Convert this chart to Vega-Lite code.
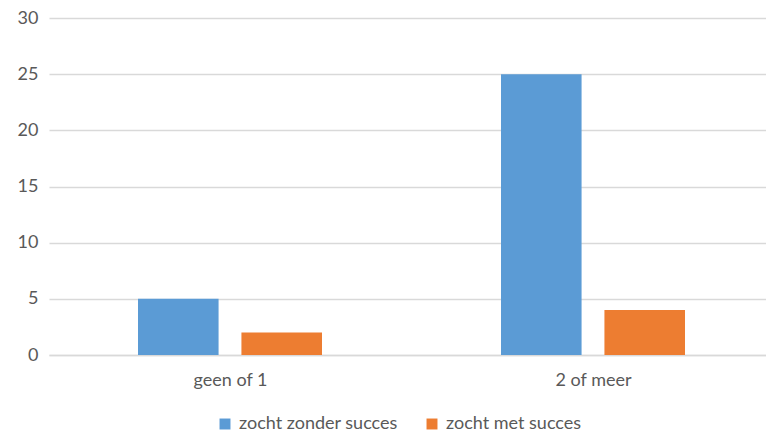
{
  "$schema": "https://vega.github.io/schema/vega-lite/v6.json",
  "width": 716,
  "height": 337,
  "autosize": "none",
  "padding": {"left": 49, "top": 18, "right": 1, "bottom": 79},
  "background": "white",
  "config": {
    "font": "Lato",
    "view": {"stroke": null}
  },
  "data": {
    "values": [
      {"groep": "geen of 1", "reeks": "zocht zonder succes", "aantal": 5},
      {"groep": "geen of 1", "reeks": "zocht met succes", "aantal": 2},
      {"groep": "2 of meer", "reeks": "zocht zonder succes", "aantal": 25},
      {"groep": "2 of meer", "reeks": "zocht met succes", "aantal": 4}
    ]
  },
  "mark": {"type": "bar", "clip": true},
  "encoding": {
    "x": {
      "field": "groep",
      "type": "nominal",
      "sort": ["geen of 1", "2 of meer"],
      "scale": {"paddingInner": 0, "paddingOuter": 0, "range": [0, 726]},
      "axis": {
        "title": null,
        "labelAngle": 0,
        "labelFontSize": 18,
        "labelColor": "#595959",
        "labelPadding": 16,
        "ticks": false,
        "domainColor": "#D9D9D9",
        "domainWidth": 1.5,
        "grid": false
      }
    },
    "xOffset": {
      "field": "reeks",
      "type": "nominal",
      "sort": ["zocht zonder succes", "zocht met succes"],
      "scale": {"paddingInner": 0.221, "paddingOuter": 0, "range": [89, 273]}
    },
    "y": {
      "field": "aantal",
      "type": "quantitative",
      "scale": {"domain": [0, 30]},
      "axis": {
        "title": null,
        "values": [0, 5, 10, 15, 20, 25, 30],
        "labelFontSize": 18,
        "labelColor": "#595959",
        "labelPadding": 11,
        "ticks": false,
        "domain": false,
        "gridColor": "#D9D9D9",
        "gridWidth": 1.5
      }
    },
    "color": {
      "field": "reeks",
      "type": "nominal",
      "sort": ["zocht zonder succes", "zocht met succes"],
      "scale": {"domain": ["zocht zonder succes", "zocht met succes"], "range": ["#5B9BD5", "#ED7D31"]},
      "legend": {
        "title": null,
        "orient": "none",
        "direction": "horizontal",
        "legendX": 167,
        "legendY": 397,
        "symbolType": "square",
        "symbolSize": 120,
        "symbolStrokeWidth": 0,
        "labelFontSize": 18,
        "labelColor": "#595959",
        "columnPadding": 25,
        "labelOffset": 5
      }
    }
  }
}
